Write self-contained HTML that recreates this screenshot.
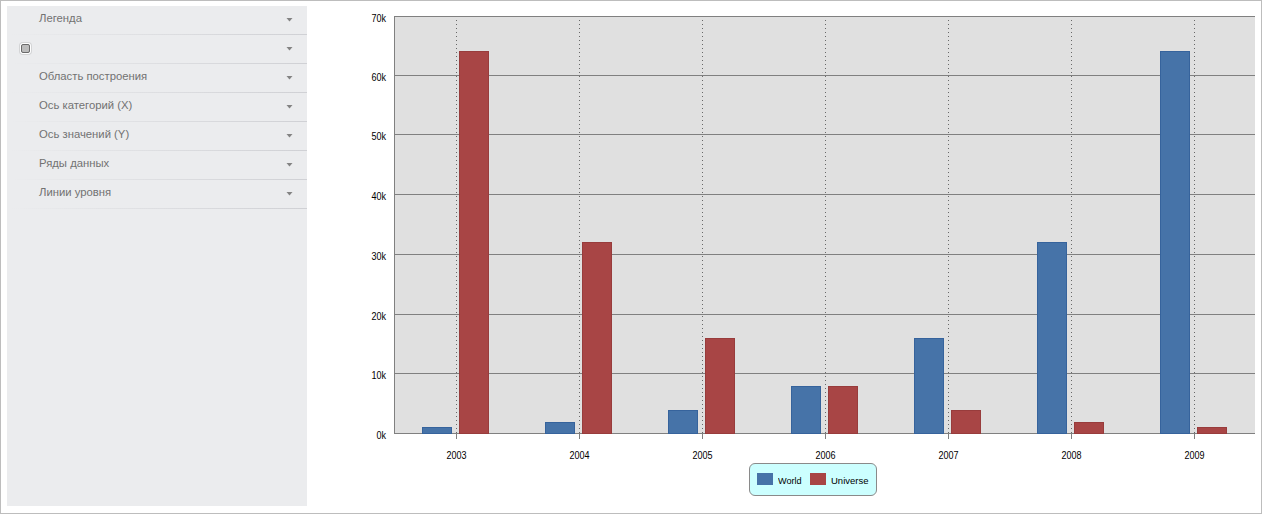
<!DOCTYPE html>
<html><head><meta charset="utf-8"><style>
html,body{margin:0;padding:0;}
body{width:1262px;height:514px;position:relative;overflow:hidden;background:#fff;font-family:"Liberation Sans",sans-serif;}
#frame{position:absolute;left:0;top:0;width:1260px;height:512px;border:1px solid #bdbdbd;}
#panel{position:absolute;left:7px;top:6px;width:300px;height:500px;background:#ebecee;}
.t{position:absolute;left:39px;font-size:11.3px;line-height:14px;color:#727272;white-space:nowrap;}
.sep{position:absolute;left:7px;width:300px;height:1px;background:linear-gradient(to right,rgba(208,209,213,0) 1%,rgba(208,209,213,1) 98%);}
#cb{position:absolute;left:20px;top:43px;width:9px;height:9px;border:1px solid #fff;border-radius:3px;box-shadow:0 0 0 1px rgba(0,0,0,0.1);}
#cb div{position:absolute;left:0;top:0;width:7px;height:7px;border:1px solid #6a6a6a;border-radius:2px;background:#bcbcbc;}
.yl{position:absolute;left:340px;width:46px;text-align:right;font-size:10px;line-height:10px;color:#000;transform:scaleX(0.9);transform-origin:right center;}
.xl{position:absolute;top:451px;width:61px;text-align:center;font-size:10px;line-height:10px;color:#000;transform:scaleX(0.9);}
svg{position:absolute;left:0;top:0;}
#legend{position:absolute;left:749px;top:463px;width:126px;height:31px;border:1px solid #8a8a8a;border-radius:6px;background:#ccffff;}
.sw{position:absolute;top:9px;width:16px;height:12px;}
.lt{position:absolute;top:12px;font-size:9.5px;line-height:10px;color:#000;white-space:nowrap;transform-origin:left center;}
</style></head><body>
<div id="frame"></div>
<div id="panel"></div>
<div class="t" style="top:11px">Легенда</div><div class="sep" style="top:34px"></div><div class="sep" style="top:63px"></div><div class="t" style="top:69px">Область построения</div><div class="sep" style="top:92px"></div><div class="t" style="top:98px">Ось категорий (X)</div><div class="sep" style="top:121px"></div><div class="t" style="top:127px">Ось значений (Y)</div><div class="sep" style="top:150px"></div><div class="t" style="top:156px">Ряды данных</div><div class="sep" style="top:179px"></div><div class="t" style="top:185px">Линии уровня</div><div class="sep" style="top:208px"></div>
<div id="cb"><div></div></div>
<svg width="1262" height="514" shape-rendering="crispEdges"><rect x="394" y="16" width="861" height="418" fill="#e0e0e0"/><rect x="394" y="16" width="861" height="1" fill="#808080"/><rect x="394" y="75" width="861" height="1" fill="#808080"/><rect x="394" y="134" width="861" height="1" fill="#808080"/><rect x="394" y="194" width="861" height="1" fill="#808080"/><rect x="394" y="254" width="861" height="1" fill="#808080"/><rect x="394" y="314" width="861" height="1" fill="#808080"/><rect x="394" y="373" width="861" height="1" fill="#808080"/><rect x="394" y="433" width="861" height="1" fill="#808080"/><rect x="394" y="16" width="1" height="418" fill="#808080"/><path d="M456 20h1v1h-1zM456 24h1v1h-1zM456 28h1v1h-1zM456 32h1v1h-1zM456 36h1v1h-1zM456 40h1v1h-1zM456 44h1v1h-1zM456 48h1v1h-1zM456 52h1v1h-1zM456 56h1v1h-1zM456 60h1v1h-1zM456 64h1v1h-1zM456 68h1v1h-1zM456 72h1v1h-1zM456 76h1v1h-1zM456 80h1v1h-1zM456 84h1v1h-1zM456 88h1v1h-1zM456 92h1v1h-1zM456 96h1v1h-1zM456 100h1v1h-1zM456 104h1v1h-1zM456 108h1v1h-1zM456 112h1v1h-1zM456 116h1v1h-1zM456 120h1v1h-1zM456 124h1v1h-1zM456 128h1v1h-1zM456 132h1v1h-1zM456 136h1v1h-1zM456 140h1v1h-1zM456 144h1v1h-1zM456 148h1v1h-1zM456 152h1v1h-1zM456 156h1v1h-1zM456 160h1v1h-1zM456 164h1v1h-1zM456 168h1v1h-1zM456 172h1v1h-1zM456 176h1v1h-1zM456 180h1v1h-1zM456 184h1v1h-1zM456 188h1v1h-1zM456 192h1v1h-1zM456 196h1v1h-1zM456 200h1v1h-1zM456 204h1v1h-1zM456 208h1v1h-1zM456 212h1v1h-1zM456 216h1v1h-1zM456 220h1v1h-1zM456 224h1v1h-1zM456 228h1v1h-1zM456 232h1v1h-1zM456 236h1v1h-1zM456 240h1v1h-1zM456 244h1v1h-1zM456 248h1v1h-1zM456 252h1v1h-1zM456 256h1v1h-1zM456 260h1v1h-1zM456 264h1v1h-1zM456 268h1v1h-1zM456 272h1v1h-1zM456 276h1v1h-1zM456 280h1v1h-1zM456 284h1v1h-1zM456 288h1v1h-1zM456 292h1v1h-1zM456 296h1v1h-1zM456 300h1v1h-1zM456 304h1v1h-1zM456 308h1v1h-1zM456 312h1v1h-1zM456 316h1v1h-1zM456 320h1v1h-1zM456 324h1v1h-1zM456 328h1v1h-1zM456 332h1v1h-1zM456 336h1v1h-1zM456 340h1v1h-1zM456 344h1v1h-1zM456 348h1v1h-1zM456 352h1v1h-1zM456 356h1v1h-1zM456 360h1v1h-1zM456 364h1v1h-1zM456 368h1v1h-1zM456 372h1v1h-1zM456 376h1v1h-1zM456 380h1v1h-1zM456 384h1v1h-1zM456 388h1v1h-1zM456 392h1v1h-1zM456 396h1v1h-1zM456 400h1v1h-1zM456 404h1v1h-1zM456 408h1v1h-1zM456 412h1v1h-1zM456 416h1v1h-1zM456 420h1v1h-1zM456 424h1v1h-1zM456 428h1v1h-1zM456 432h1v1h-1z" fill="#686868"/><rect x="456" y="433" width="1" height="6" fill="#808080"/><path d="M579 20h1v1h-1zM579 24h1v1h-1zM579 28h1v1h-1zM579 32h1v1h-1zM579 36h1v1h-1zM579 40h1v1h-1zM579 44h1v1h-1zM579 48h1v1h-1zM579 52h1v1h-1zM579 56h1v1h-1zM579 60h1v1h-1zM579 64h1v1h-1zM579 68h1v1h-1zM579 72h1v1h-1zM579 76h1v1h-1zM579 80h1v1h-1zM579 84h1v1h-1zM579 88h1v1h-1zM579 92h1v1h-1zM579 96h1v1h-1zM579 100h1v1h-1zM579 104h1v1h-1zM579 108h1v1h-1zM579 112h1v1h-1zM579 116h1v1h-1zM579 120h1v1h-1zM579 124h1v1h-1zM579 128h1v1h-1zM579 132h1v1h-1zM579 136h1v1h-1zM579 140h1v1h-1zM579 144h1v1h-1zM579 148h1v1h-1zM579 152h1v1h-1zM579 156h1v1h-1zM579 160h1v1h-1zM579 164h1v1h-1zM579 168h1v1h-1zM579 172h1v1h-1zM579 176h1v1h-1zM579 180h1v1h-1zM579 184h1v1h-1zM579 188h1v1h-1zM579 192h1v1h-1zM579 196h1v1h-1zM579 200h1v1h-1zM579 204h1v1h-1zM579 208h1v1h-1zM579 212h1v1h-1zM579 216h1v1h-1zM579 220h1v1h-1zM579 224h1v1h-1zM579 228h1v1h-1zM579 232h1v1h-1zM579 236h1v1h-1zM579 240h1v1h-1zM579 244h1v1h-1zM579 248h1v1h-1zM579 252h1v1h-1zM579 256h1v1h-1zM579 260h1v1h-1zM579 264h1v1h-1zM579 268h1v1h-1zM579 272h1v1h-1zM579 276h1v1h-1zM579 280h1v1h-1zM579 284h1v1h-1zM579 288h1v1h-1zM579 292h1v1h-1zM579 296h1v1h-1zM579 300h1v1h-1zM579 304h1v1h-1zM579 308h1v1h-1zM579 312h1v1h-1zM579 316h1v1h-1zM579 320h1v1h-1zM579 324h1v1h-1zM579 328h1v1h-1zM579 332h1v1h-1zM579 336h1v1h-1zM579 340h1v1h-1zM579 344h1v1h-1zM579 348h1v1h-1zM579 352h1v1h-1zM579 356h1v1h-1zM579 360h1v1h-1zM579 364h1v1h-1zM579 368h1v1h-1zM579 372h1v1h-1zM579 376h1v1h-1zM579 380h1v1h-1zM579 384h1v1h-1zM579 388h1v1h-1zM579 392h1v1h-1zM579 396h1v1h-1zM579 400h1v1h-1zM579 404h1v1h-1zM579 408h1v1h-1zM579 412h1v1h-1zM579 416h1v1h-1zM579 420h1v1h-1zM579 424h1v1h-1zM579 428h1v1h-1zM579 432h1v1h-1z" fill="#686868"/><rect x="579" y="433" width="1" height="6" fill="#808080"/><path d="M702 20h1v1h-1zM702 24h1v1h-1zM702 28h1v1h-1zM702 32h1v1h-1zM702 36h1v1h-1zM702 40h1v1h-1zM702 44h1v1h-1zM702 48h1v1h-1zM702 52h1v1h-1zM702 56h1v1h-1zM702 60h1v1h-1zM702 64h1v1h-1zM702 68h1v1h-1zM702 72h1v1h-1zM702 76h1v1h-1zM702 80h1v1h-1zM702 84h1v1h-1zM702 88h1v1h-1zM702 92h1v1h-1zM702 96h1v1h-1zM702 100h1v1h-1zM702 104h1v1h-1zM702 108h1v1h-1zM702 112h1v1h-1zM702 116h1v1h-1zM702 120h1v1h-1zM702 124h1v1h-1zM702 128h1v1h-1zM702 132h1v1h-1zM702 136h1v1h-1zM702 140h1v1h-1zM702 144h1v1h-1zM702 148h1v1h-1zM702 152h1v1h-1zM702 156h1v1h-1zM702 160h1v1h-1zM702 164h1v1h-1zM702 168h1v1h-1zM702 172h1v1h-1zM702 176h1v1h-1zM702 180h1v1h-1zM702 184h1v1h-1zM702 188h1v1h-1zM702 192h1v1h-1zM702 196h1v1h-1zM702 200h1v1h-1zM702 204h1v1h-1zM702 208h1v1h-1zM702 212h1v1h-1zM702 216h1v1h-1zM702 220h1v1h-1zM702 224h1v1h-1zM702 228h1v1h-1zM702 232h1v1h-1zM702 236h1v1h-1zM702 240h1v1h-1zM702 244h1v1h-1zM702 248h1v1h-1zM702 252h1v1h-1zM702 256h1v1h-1zM702 260h1v1h-1zM702 264h1v1h-1zM702 268h1v1h-1zM702 272h1v1h-1zM702 276h1v1h-1zM702 280h1v1h-1zM702 284h1v1h-1zM702 288h1v1h-1zM702 292h1v1h-1zM702 296h1v1h-1zM702 300h1v1h-1zM702 304h1v1h-1zM702 308h1v1h-1zM702 312h1v1h-1zM702 316h1v1h-1zM702 320h1v1h-1zM702 324h1v1h-1zM702 328h1v1h-1zM702 332h1v1h-1zM702 336h1v1h-1zM702 340h1v1h-1zM702 344h1v1h-1zM702 348h1v1h-1zM702 352h1v1h-1zM702 356h1v1h-1zM702 360h1v1h-1zM702 364h1v1h-1zM702 368h1v1h-1zM702 372h1v1h-1zM702 376h1v1h-1zM702 380h1v1h-1zM702 384h1v1h-1zM702 388h1v1h-1zM702 392h1v1h-1zM702 396h1v1h-1zM702 400h1v1h-1zM702 404h1v1h-1zM702 408h1v1h-1zM702 412h1v1h-1zM702 416h1v1h-1zM702 420h1v1h-1zM702 424h1v1h-1zM702 428h1v1h-1zM702 432h1v1h-1z" fill="#686868"/><rect x="702" y="433" width="1" height="6" fill="#808080"/><path d="M825 20h1v1h-1zM825 24h1v1h-1zM825 28h1v1h-1zM825 32h1v1h-1zM825 36h1v1h-1zM825 40h1v1h-1zM825 44h1v1h-1zM825 48h1v1h-1zM825 52h1v1h-1zM825 56h1v1h-1zM825 60h1v1h-1zM825 64h1v1h-1zM825 68h1v1h-1zM825 72h1v1h-1zM825 76h1v1h-1zM825 80h1v1h-1zM825 84h1v1h-1zM825 88h1v1h-1zM825 92h1v1h-1zM825 96h1v1h-1zM825 100h1v1h-1zM825 104h1v1h-1zM825 108h1v1h-1zM825 112h1v1h-1zM825 116h1v1h-1zM825 120h1v1h-1zM825 124h1v1h-1zM825 128h1v1h-1zM825 132h1v1h-1zM825 136h1v1h-1zM825 140h1v1h-1zM825 144h1v1h-1zM825 148h1v1h-1zM825 152h1v1h-1zM825 156h1v1h-1zM825 160h1v1h-1zM825 164h1v1h-1zM825 168h1v1h-1zM825 172h1v1h-1zM825 176h1v1h-1zM825 180h1v1h-1zM825 184h1v1h-1zM825 188h1v1h-1zM825 192h1v1h-1zM825 196h1v1h-1zM825 200h1v1h-1zM825 204h1v1h-1zM825 208h1v1h-1zM825 212h1v1h-1zM825 216h1v1h-1zM825 220h1v1h-1zM825 224h1v1h-1zM825 228h1v1h-1zM825 232h1v1h-1zM825 236h1v1h-1zM825 240h1v1h-1zM825 244h1v1h-1zM825 248h1v1h-1zM825 252h1v1h-1zM825 256h1v1h-1zM825 260h1v1h-1zM825 264h1v1h-1zM825 268h1v1h-1zM825 272h1v1h-1zM825 276h1v1h-1zM825 280h1v1h-1zM825 284h1v1h-1zM825 288h1v1h-1zM825 292h1v1h-1zM825 296h1v1h-1zM825 300h1v1h-1zM825 304h1v1h-1zM825 308h1v1h-1zM825 312h1v1h-1zM825 316h1v1h-1zM825 320h1v1h-1zM825 324h1v1h-1zM825 328h1v1h-1zM825 332h1v1h-1zM825 336h1v1h-1zM825 340h1v1h-1zM825 344h1v1h-1zM825 348h1v1h-1zM825 352h1v1h-1zM825 356h1v1h-1zM825 360h1v1h-1zM825 364h1v1h-1zM825 368h1v1h-1zM825 372h1v1h-1zM825 376h1v1h-1zM825 380h1v1h-1zM825 384h1v1h-1zM825 388h1v1h-1zM825 392h1v1h-1zM825 396h1v1h-1zM825 400h1v1h-1zM825 404h1v1h-1zM825 408h1v1h-1zM825 412h1v1h-1zM825 416h1v1h-1zM825 420h1v1h-1zM825 424h1v1h-1zM825 428h1v1h-1zM825 432h1v1h-1z" fill="#686868"/><rect x="825" y="433" width="1" height="6" fill="#808080"/><path d="M948 20h1v1h-1zM948 24h1v1h-1zM948 28h1v1h-1zM948 32h1v1h-1zM948 36h1v1h-1zM948 40h1v1h-1zM948 44h1v1h-1zM948 48h1v1h-1zM948 52h1v1h-1zM948 56h1v1h-1zM948 60h1v1h-1zM948 64h1v1h-1zM948 68h1v1h-1zM948 72h1v1h-1zM948 76h1v1h-1zM948 80h1v1h-1zM948 84h1v1h-1zM948 88h1v1h-1zM948 92h1v1h-1zM948 96h1v1h-1zM948 100h1v1h-1zM948 104h1v1h-1zM948 108h1v1h-1zM948 112h1v1h-1zM948 116h1v1h-1zM948 120h1v1h-1zM948 124h1v1h-1zM948 128h1v1h-1zM948 132h1v1h-1zM948 136h1v1h-1zM948 140h1v1h-1zM948 144h1v1h-1zM948 148h1v1h-1zM948 152h1v1h-1zM948 156h1v1h-1zM948 160h1v1h-1zM948 164h1v1h-1zM948 168h1v1h-1zM948 172h1v1h-1zM948 176h1v1h-1zM948 180h1v1h-1zM948 184h1v1h-1zM948 188h1v1h-1zM948 192h1v1h-1zM948 196h1v1h-1zM948 200h1v1h-1zM948 204h1v1h-1zM948 208h1v1h-1zM948 212h1v1h-1zM948 216h1v1h-1zM948 220h1v1h-1zM948 224h1v1h-1zM948 228h1v1h-1zM948 232h1v1h-1zM948 236h1v1h-1zM948 240h1v1h-1zM948 244h1v1h-1zM948 248h1v1h-1zM948 252h1v1h-1zM948 256h1v1h-1zM948 260h1v1h-1zM948 264h1v1h-1zM948 268h1v1h-1zM948 272h1v1h-1zM948 276h1v1h-1zM948 280h1v1h-1zM948 284h1v1h-1zM948 288h1v1h-1zM948 292h1v1h-1zM948 296h1v1h-1zM948 300h1v1h-1zM948 304h1v1h-1zM948 308h1v1h-1zM948 312h1v1h-1zM948 316h1v1h-1zM948 320h1v1h-1zM948 324h1v1h-1zM948 328h1v1h-1zM948 332h1v1h-1zM948 336h1v1h-1zM948 340h1v1h-1zM948 344h1v1h-1zM948 348h1v1h-1zM948 352h1v1h-1zM948 356h1v1h-1zM948 360h1v1h-1zM948 364h1v1h-1zM948 368h1v1h-1zM948 372h1v1h-1zM948 376h1v1h-1zM948 380h1v1h-1zM948 384h1v1h-1zM948 388h1v1h-1zM948 392h1v1h-1zM948 396h1v1h-1zM948 400h1v1h-1zM948 404h1v1h-1zM948 408h1v1h-1zM948 412h1v1h-1zM948 416h1v1h-1zM948 420h1v1h-1zM948 424h1v1h-1zM948 428h1v1h-1zM948 432h1v1h-1z" fill="#686868"/><rect x="948" y="433" width="1" height="6" fill="#808080"/><path d="M1071 20h1v1h-1zM1071 24h1v1h-1zM1071 28h1v1h-1zM1071 32h1v1h-1zM1071 36h1v1h-1zM1071 40h1v1h-1zM1071 44h1v1h-1zM1071 48h1v1h-1zM1071 52h1v1h-1zM1071 56h1v1h-1zM1071 60h1v1h-1zM1071 64h1v1h-1zM1071 68h1v1h-1zM1071 72h1v1h-1zM1071 76h1v1h-1zM1071 80h1v1h-1zM1071 84h1v1h-1zM1071 88h1v1h-1zM1071 92h1v1h-1zM1071 96h1v1h-1zM1071 100h1v1h-1zM1071 104h1v1h-1zM1071 108h1v1h-1zM1071 112h1v1h-1zM1071 116h1v1h-1zM1071 120h1v1h-1zM1071 124h1v1h-1zM1071 128h1v1h-1zM1071 132h1v1h-1zM1071 136h1v1h-1zM1071 140h1v1h-1zM1071 144h1v1h-1zM1071 148h1v1h-1zM1071 152h1v1h-1zM1071 156h1v1h-1zM1071 160h1v1h-1zM1071 164h1v1h-1zM1071 168h1v1h-1zM1071 172h1v1h-1zM1071 176h1v1h-1zM1071 180h1v1h-1zM1071 184h1v1h-1zM1071 188h1v1h-1zM1071 192h1v1h-1zM1071 196h1v1h-1zM1071 200h1v1h-1zM1071 204h1v1h-1zM1071 208h1v1h-1zM1071 212h1v1h-1zM1071 216h1v1h-1zM1071 220h1v1h-1zM1071 224h1v1h-1zM1071 228h1v1h-1zM1071 232h1v1h-1zM1071 236h1v1h-1zM1071 240h1v1h-1zM1071 244h1v1h-1zM1071 248h1v1h-1zM1071 252h1v1h-1zM1071 256h1v1h-1zM1071 260h1v1h-1zM1071 264h1v1h-1zM1071 268h1v1h-1zM1071 272h1v1h-1zM1071 276h1v1h-1zM1071 280h1v1h-1zM1071 284h1v1h-1zM1071 288h1v1h-1zM1071 292h1v1h-1zM1071 296h1v1h-1zM1071 300h1v1h-1zM1071 304h1v1h-1zM1071 308h1v1h-1zM1071 312h1v1h-1zM1071 316h1v1h-1zM1071 320h1v1h-1zM1071 324h1v1h-1zM1071 328h1v1h-1zM1071 332h1v1h-1zM1071 336h1v1h-1zM1071 340h1v1h-1zM1071 344h1v1h-1zM1071 348h1v1h-1zM1071 352h1v1h-1zM1071 356h1v1h-1zM1071 360h1v1h-1zM1071 364h1v1h-1zM1071 368h1v1h-1zM1071 372h1v1h-1zM1071 376h1v1h-1zM1071 380h1v1h-1zM1071 384h1v1h-1zM1071 388h1v1h-1zM1071 392h1v1h-1zM1071 396h1v1h-1zM1071 400h1v1h-1zM1071 404h1v1h-1zM1071 408h1v1h-1zM1071 412h1v1h-1zM1071 416h1v1h-1zM1071 420h1v1h-1zM1071 424h1v1h-1zM1071 428h1v1h-1zM1071 432h1v1h-1z" fill="#686868"/><rect x="1071" y="433" width="1" height="6" fill="#808080"/><path d="M1194 20h1v1h-1zM1194 24h1v1h-1zM1194 28h1v1h-1zM1194 32h1v1h-1zM1194 36h1v1h-1zM1194 40h1v1h-1zM1194 44h1v1h-1zM1194 48h1v1h-1zM1194 52h1v1h-1zM1194 56h1v1h-1zM1194 60h1v1h-1zM1194 64h1v1h-1zM1194 68h1v1h-1zM1194 72h1v1h-1zM1194 76h1v1h-1zM1194 80h1v1h-1zM1194 84h1v1h-1zM1194 88h1v1h-1zM1194 92h1v1h-1zM1194 96h1v1h-1zM1194 100h1v1h-1zM1194 104h1v1h-1zM1194 108h1v1h-1zM1194 112h1v1h-1zM1194 116h1v1h-1zM1194 120h1v1h-1zM1194 124h1v1h-1zM1194 128h1v1h-1zM1194 132h1v1h-1zM1194 136h1v1h-1zM1194 140h1v1h-1zM1194 144h1v1h-1zM1194 148h1v1h-1zM1194 152h1v1h-1zM1194 156h1v1h-1zM1194 160h1v1h-1zM1194 164h1v1h-1zM1194 168h1v1h-1zM1194 172h1v1h-1zM1194 176h1v1h-1zM1194 180h1v1h-1zM1194 184h1v1h-1zM1194 188h1v1h-1zM1194 192h1v1h-1zM1194 196h1v1h-1zM1194 200h1v1h-1zM1194 204h1v1h-1zM1194 208h1v1h-1zM1194 212h1v1h-1zM1194 216h1v1h-1zM1194 220h1v1h-1zM1194 224h1v1h-1zM1194 228h1v1h-1zM1194 232h1v1h-1zM1194 236h1v1h-1zM1194 240h1v1h-1zM1194 244h1v1h-1zM1194 248h1v1h-1zM1194 252h1v1h-1zM1194 256h1v1h-1zM1194 260h1v1h-1zM1194 264h1v1h-1zM1194 268h1v1h-1zM1194 272h1v1h-1zM1194 276h1v1h-1zM1194 280h1v1h-1zM1194 284h1v1h-1zM1194 288h1v1h-1zM1194 292h1v1h-1zM1194 296h1v1h-1zM1194 300h1v1h-1zM1194 304h1v1h-1zM1194 308h1v1h-1zM1194 312h1v1h-1zM1194 316h1v1h-1zM1194 320h1v1h-1zM1194 324h1v1h-1zM1194 328h1v1h-1zM1194 332h1v1h-1zM1194 336h1v1h-1zM1194 340h1v1h-1zM1194 344h1v1h-1zM1194 348h1v1h-1zM1194 352h1v1h-1zM1194 356h1v1h-1zM1194 360h1v1h-1zM1194 364h1v1h-1zM1194 368h1v1h-1zM1194 372h1v1h-1zM1194 376h1v1h-1zM1194 380h1v1h-1zM1194 384h1v1h-1zM1194 388h1v1h-1zM1194 392h1v1h-1zM1194 396h1v1h-1zM1194 400h1v1h-1zM1194 404h1v1h-1zM1194 408h1v1h-1zM1194 412h1v1h-1zM1194 416h1v1h-1zM1194 420h1v1h-1zM1194 424h1v1h-1zM1194 428h1v1h-1zM1194 432h1v1h-1z" fill="#686868"/><rect x="1194" y="433" width="1" height="6" fill="#808080"/><rect x="422" y="427" width="30" height="7" fill="#36639c"/><rect x="423" y="428" width="28" height="5" fill="#4673a8"/><rect x="459" y="51" width="30" height="383" fill="#983c3c"/><rect x="460" y="52" width="28" height="381" fill="#a84545"/><rect x="545" y="422" width="30" height="12" fill="#36639c"/><rect x="546" y="423" width="28" height="10" fill="#4673a8"/><rect x="582" y="242" width="30" height="192" fill="#983c3c"/><rect x="583" y="243" width="28" height="190" fill="#a84545"/><rect x="668" y="410" width="30" height="24" fill="#36639c"/><rect x="669" y="411" width="28" height="22" fill="#4673a8"/><rect x="705" y="338" width="30" height="96" fill="#983c3c"/><rect x="706" y="339" width="28" height="94" fill="#a84545"/><rect x="791" y="386" width="30" height="48" fill="#36639c"/><rect x="792" y="387" width="28" height="46" fill="#4673a8"/><rect x="828" y="386" width="30" height="48" fill="#983c3c"/><rect x="829" y="387" width="28" height="46" fill="#a84545"/><rect x="914" y="338" width="30" height="96" fill="#36639c"/><rect x="915" y="339" width="28" height="94" fill="#4673a8"/><rect x="951" y="410" width="30" height="24" fill="#983c3c"/><rect x="952" y="411" width="28" height="22" fill="#a84545"/><rect x="1037" y="242" width="30" height="192" fill="#36639c"/><rect x="1038" y="243" width="28" height="190" fill="#4673a8"/><rect x="1074" y="422" width="30" height="12" fill="#983c3c"/><rect x="1075" y="423" width="28" height="10" fill="#a84545"/><rect x="1160" y="51" width="30" height="383" fill="#36639c"/><rect x="1161" y="52" width="28" height="381" fill="#4673a8"/><rect x="1197" y="427" width="30" height="7" fill="#983c3c"/><rect x="1198" y="428" width="28" height="5" fill="#a84545"/><polygon points="286.5,18 292.5,18 289.5,21.6" fill="#838383" shape-rendering="geometricPrecision"/><polygon points="286.5,47 292.5,47 289.5,50.6" fill="#838383" shape-rendering="geometricPrecision"/><polygon points="286.5,76 292.5,76 289.5,79.6" fill="#838383" shape-rendering="geometricPrecision"/><polygon points="286.5,105 292.5,105 289.5,108.6" fill="#838383" shape-rendering="geometricPrecision"/><polygon points="286.5,134 292.5,134 289.5,137.6" fill="#838383" shape-rendering="geometricPrecision"/><polygon points="286.5,163 292.5,163 289.5,166.6" fill="#838383" shape-rendering="geometricPrecision"/><polygon points="286.5,192 292.5,192 289.5,195.6" fill="#838383" shape-rendering="geometricPrecision"/></svg>
<div class="yl" style="top:14px">70k</div><div class="yl" style="top:73px">60k</div><div class="yl" style="top:132px">50k</div><div class="yl" style="top:192px">40k</div><div class="yl" style="top:252px">30k</div><div class="yl" style="top:312px">20k</div><div class="yl" style="top:371px">10k</div><div class="yl" style="top:431px">0k</div>
<div class="xl" style="left:426px">2003</div><div class="xl" style="left:549px">2004</div><div class="xl" style="left:672px">2005</div><div class="xl" style="left:795px">2006</div><div class="xl" style="left:918px">2007</div><div class="xl" style="left:1041px">2008</div><div class="xl" style="left:1164px">2009</div>
<div id="legend">
<div class="sw" style="left:7px;background:#4673a8"></div>
<div class="lt" style="left:28px;transform:scaleX(0.96)">World</div>
<div class="sw" style="left:60px;background:#a84545"></div>
<div class="lt" style="left:81px;transform:scaleX(1.0)">Universe</div>
</div>
</body></html>
